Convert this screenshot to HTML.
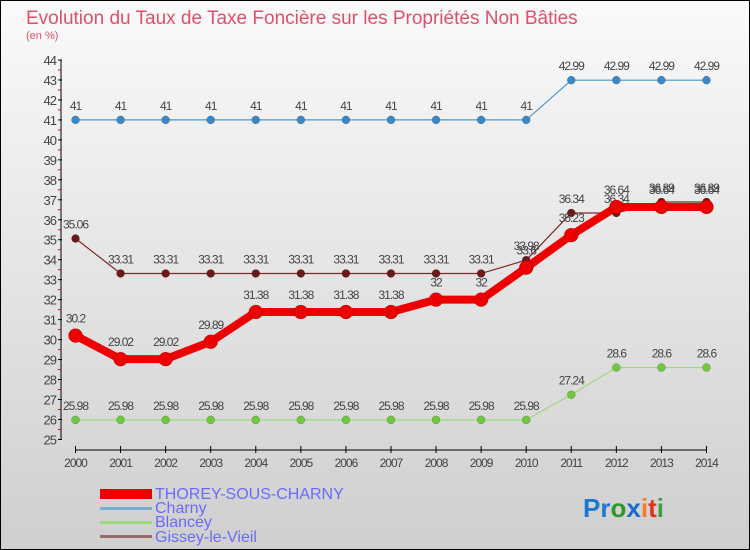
<!DOCTYPE html>
<html><head><meta charset="utf-8"><style>
body{margin:0;width:750px;height:550px;overflow:hidden;font-family:"Liberation Sans",sans-serif}
svg{display:block}
</style></head><body>
<svg id="c" width="750" height="550" xmlns="http://www.w3.org/2000/svg">
<defs><linearGradient id="bg" x1="0" y1="0" x2="0" y2="1"><stop offset="0" stop-color="#fafafa"/><stop offset="1" stop-color="#cfcfcf"/></linearGradient></defs>
<rect x="0.5" y="0.5" width="749" height="549" fill="url(#bg)" stroke="#000"/>
<text x="26" y="24" font-size="19" fill="#e0506a">Evolution du Taux de Taxe Foncière sur les Propriétés Non Bâties</text>
<text x="26" y="39" font-size="11" fill="#e0506a">(en %)</text>
<g id="axes"></g><g id="series"></g>
<g>
<rect x="100" y="489" width="52" height="10" fill="#e00"/>
<text x="155" y="499" font-size="16" fill="#6a6aff">THOREY-SOUS-CHARNY</text>
<rect x="100" y="507" width="52" height="3" fill="#7aaed0"/>
<text x="155" y="513" font-size="16" fill="#6a6aff">Charny</text>
<rect x="100" y="521" width="52" height="3" fill="#9fd880"/>
<text x="155" y="527" font-size="16" fill="#6a6aff">Blancey</text>
<rect x="100" y="535" width="52" height="3" fill="#9a6a6a"/>
<text x="155" y="542" font-size="16" fill="#6a6aff">Gissey-le-Vieil</text>
</g>
<g font-size="26" font-weight="bold">
<text x="583" y="517"><tspan fill="#1a7ad0">Pr</tspan><tspan fill="#2a9a2a">o</tspan><tspan fill="#1a6ad0">x</tspan><tspan fill="#f08020">i</tspan><tspan fill="#e03020">t</tspan><tspan fill="#40a040">i</tspan></text>
</g>
</svg>
<script>
const years=[2000,2001,2002,2003,2004,2005,2006,2007,2008,2009,2010,2011,2012,2013,2014];
const yTicks=[25,26,27,28,29,30,31,32,33,34,35,36,37,38,39,40,41,42,43,44];
const thorey=[30.2,29.02,29.02,29.89,31.38,31.38,31.38,31.38,32,32,33.6,35.23,36.64,36.64,36.64];
const charny=[41,41,41,41,41,41,41,41,41,41,41,42.99,42.99,42.99,42.99];
const blancey=[25.98,25.98,25.98,25.98,25.98,25.98,25.98,25.98,25.98,25.98,25.98,27.24,28.6,28.6,28.6];
const gissey=[35.06,33.31,33.31,33.31,33.31,33.31,33.31,33.31,33.31,33.31,33.98,36.34,36.34,36.89,36.89];
const NS='http://www.w3.org/2000/svg';
const X=i=>75.5+i*45.07, Y=v=>60+(44-v)*19.97;
function mk(p,t,a){const e=document.createElementNS(NS,t);for(const k in a)e.setAttribute(k,a[k]);p.appendChild(e);return e;}
const ax=document.getElementById('axes'), sr=document.getElementById('series');
const yl=mk(ax,'line',{x1:61,y1:Y(44),x2:61,y2:Y(25),stroke:'#000'});


yTicks.forEach(v=>{
 mk(ax,'line',{x1:58,y1:Y(v),x2:62,y2:Y(v),stroke:'#000'});
 if(v<44) mk(ax,'line',{x1:58,y1:Y(v+0.5),x2:61,y2:Y(v+0.5),stroke:'#e00'});
 const t=mk(ax,'text',{x:56,y:Y(v)+5,'font-size':13,fill:'#444','text-anchor':'end','letter-spacing':'-1'});
 t.textContent=v;
 
 
});
const xl=mk(ax,'line',{x1:X(0),y1:450,x2:X(14),y2:450,stroke:'#000'});


years.forEach((y,i)=>{
 mk(ax,'line',{x1:X(i),y1:446,x2:X(i),y2:453,stroke:'#000'});
 const t=mk(ax,'text',{x:X(i),y:467,'font-size':12,fill:'#444','text-anchor':'middle','letter-spacing':'-1'});
 t.textContent=y;
 
 
});
function series(d,name,col,dot,w,r){
 const g=mk(sr,'g',{});
 
 
 const pl=mk(g,'polyline',{points:d.map((v,i)=>X(i)+','+Y(v)).join(' '),fill:'none',stroke:col,'stroke-width':w,'stroke-linejoin':'round'});
 
 
 d.forEach((v,i)=>{
  const c=mk(g,'circle',{cx:X(i),cy:Y(v),r:r,fill:dot,stroke:'rgba(0,0,0,0.3)','stroke-width':0.5});
  
  
  const t=mk(g,'text',{x:X(i),y:Y(v)-(r+6),'font-size':12,fill:'#444','text-anchor':'middle','letter-spacing':'-1'});
  t.textContent=v;
  
  
 });
}
series(charny,'charny','#4a98d0','#3a88c8',1.2,4);
series(blancey,'blancey','#9fd880','#70c840',1.2,4);
series(gissey,'gissey','#7a2a2a','#6a1a1a',1.2,4);
series(thorey,'thorey','#e00','#e00',8,7);
</script>
</body></html>
